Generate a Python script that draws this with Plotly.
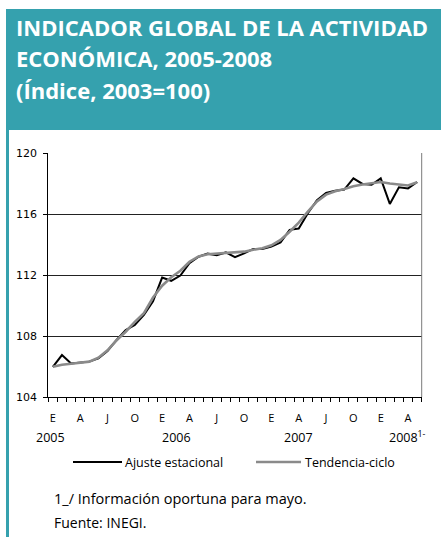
import plotly.graph_objects as go

# Monthly index, January 2005 to May 2008
months = list(range(41))
ajuste_estacional = [
    105.98, 106.75, 106.20, 106.27, 106.32, 106.53, 107.02, 107.74, 108.39, 108.72,
    109.38, 110.28, 111.83, 111.62, 111.96, 112.77, 113.20, 113.40, 113.30, 113.48,
    113.17, 113.42, 113.71, 113.70, 113.86, 114.13, 114.96, 115.05, 116.05, 116.90,
    117.38, 117.53, 117.60, 118.34, 117.97, 117.92, 118.34, 116.66, 117.75, 117.68,
    118.10,
]
tendencia_ciclo = [
    105.98, 106.12, 106.18, 106.24, 106.32, 106.58, 107.06, 107.72, 108.28, 108.92,
    109.50, 110.52, 111.30, 111.85, 112.28, 112.87, 113.22, 113.36, 113.40, 113.42,
    113.45, 113.53, 113.66, 113.76, 113.95, 114.30, 114.84, 115.43, 116.15, 116.82,
    117.27, 117.49, 117.64, 117.82, 117.94, 118.03, 118.10, 118.00, 117.92, 117.87,
    118.08,
]
series_names = ["Ajuste estacional", "Tendencia-ciclo"]
quarter_ticks = list(range(0, 41, 3))
quarter_labels = (["E", "A", "J", "O"] * 4)[:len(quarter_ticks)]
year_labels = ["2005", "2006", "2007", "2008<sup>1-</sup>"]

W, H = 441, 537
TEAL = "#35A1AE"
BLACK, GREY = "#000000", "#8A8A8A"
HUMANIST = "Open Sans, Noto Sans, sans-serif"


def px(x):
    return x / W


def py(y):
    return 1 - y / H


fig = go.Figure()
fig.add_trace(go.Scatter(
    x=months, y=ajuste_estacional, mode="lines", name=series_names[0],
    line=dict(color=BLACK, width=2),
))
fig.add_trace(go.Scatter(
    x=months, y=tendencia_ciclo, mode="lines", name=series_names[1],
    line=dict(color=GREY, width=2.6),
))

fig.update_layout(
    width=W, height=H, autosize=False,
    margin=dict(l=0, r=0, t=0, b=0, pad=0, autoexpand=False),
    paper_bgcolor="white", plot_bgcolor="white",
    showlegend=False,
    xaxis=dict(
        domain=[px(48.3), px(421.7)], range=[-0.5, 40.5], automargin=False,
        showgrid=False, zeroline=False,
        showline=True, linecolor="#000", linewidth=1,
        tickmode="array", tickvals=quarter_ticks, ticktext=quarter_labels,
        ticks="", ticklabelstandoff=11,
        tickfont=dict(family=HUMANIST, size=11, color="#000"),
        minor=dict(tickmode="linear", tick0=-0.5, dtick=1, ticks="outside",
                   ticklen=4, tickcolor="#000", tickwidth=1),
    ),
    yaxis=dict(
        domain=[py(397), py(153)], range=[104, 120], automargin=False,
        tickmode="linear", tick0=104, dtick=4,
        showgrid=True, gridcolor="#222", gridwidth=1, zeroline=False,
        showline=True, linecolor="#000", linewidth=1,
        ticks="outside", ticklen=4, tickcolor="#000", ticklabelstandoff=4,
        tickfont=dict(family="DejaVu Sans", size=11, color="#000"),
    ),
)

shapes = [
    # header band
    dict(type="rect", xref="paper", yref="paper", x0=px(6), x1=px(441),
         y0=py(130), y1=py(9), fillcolor=TEAL, line=dict(width=0), layer="below"),
    # left frame strip
    dict(type="rect", xref="paper", yref="paper", x0=px(6), x1=px(9),
         y0=py(537), y1=py(130), fillcolor=TEAL, line=dict(width=0), layer="below"),
    # right border of plot area
    dict(type="line", xref="paper", yref="paper", x0=px(421.7), x1=px(421.7),
         y0=py(397), y1=py(153), line=dict(color="#7A7A7A", width=1)),
    # legend keys
    dict(type="line", xref="paper", yref="paper", x0=px(73), x1=px(122),
         y0=py(462), y1=py(462), line=dict(color=BLACK, width=2.2)),
    dict(type="line", xref="paper", yref="paper", x0=px(256), x1=px(301),
         y0=py(462), y1=py(462), line=dict(color=GREY, width=2.4)),
]
fig.update_layout(shapes=shapes)

title_lines = [
    ("INDICADOR GLOBAL DE LA ACTIVIDAD", 27),
    ("ECONÓMICA, 2005-2008", 58),
    ("(Índice, 2003=100)", 90),
]
annotations = []
for text, yc in title_lines:
    annotations.append(dict(
        text=text, xref="paper", yref="paper", x=px(14), y=py(yc),
        xanchor="left", yanchor="middle", showarrow=False,
        font=dict(family=HUMANIST, size=22, color="white", weight="bold"),
    ))

year_pos = [(50, "center"), (176, "center"), (298, "center"), (387, "left")]
for label, (xp, anchor) in zip(year_labels, year_pos):
    annotations.append(dict(
        text=label, xref="paper", yref="paper", x=px(xp), y=py(437),
        xanchor=anchor, yanchor="middle", showarrow=False,
        font=dict(family=HUMANIST, size=12.5, color="#000"),
    ))

for name, xl in zip(series_names, [123, 303]):
    annotations.append(dict(
        text=name, xref="paper", yref="paper", x=px(xl), y=py(462),
        xanchor="left", yanchor="middle", showarrow=False,
        font=dict(family=HUMANIST, size=12.5, color="#000"),
    ))

annotations.append(dict(
    text="1_/ Información oportuna para mayo.", xref="paper", yref="paper",
    x=px(52), y=py(498), xanchor="left", yanchor="middle", showarrow=False,
    font=dict(family=HUMANIST, size=14.5, color="#000"),
))
annotations.append(dict(
    text="Fuente: INEGI.", xref="paper", yref="paper",
    x=px(52), y=py(522), xanchor="left", yanchor="middle", showarrow=False,
    font=dict(family=HUMANIST, size=14, color="#000"),
))
fig.update_layout(annotations=annotations)

fig.write_html("out.html")
